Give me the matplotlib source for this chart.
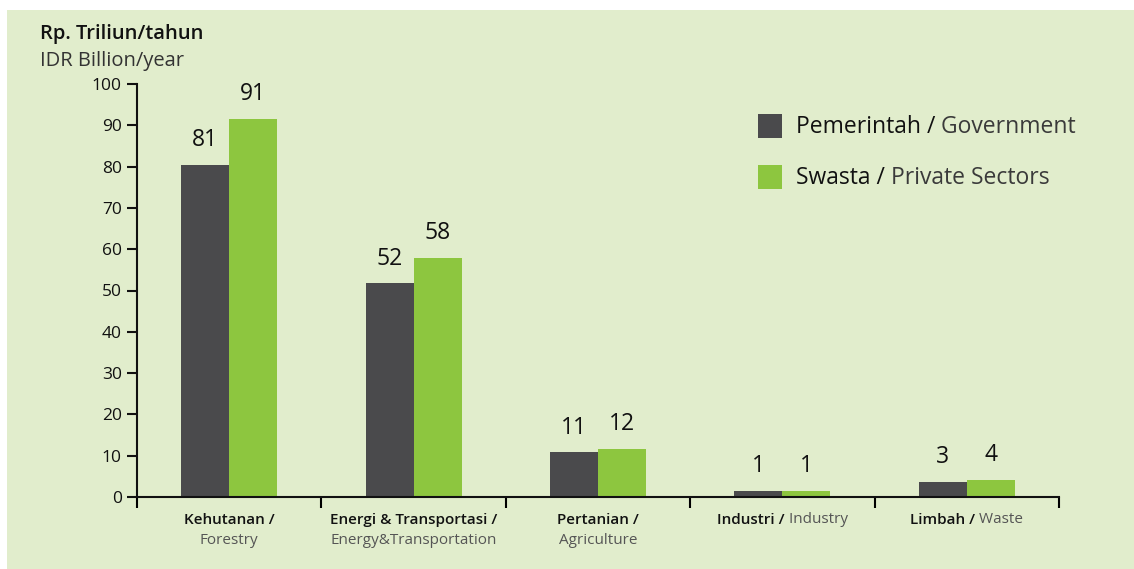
import numpy as np
import matplotlib
matplotlib.use("Agg")
import matplotlib.pyplot as plt
from matplotlib.patches import Rectangle

plt.rcParams['font.family'] = ['Open Sans', 'DejaVu Sans']

# data
sektor_id = ['Kehutanan /', 'Energi & Transportasi /', 'Pertanian /', 'Industri', 'Limbah']
sektor_en = ['Forestry', 'Energy&Transportation', 'Agriculture', 'Industry', 'Waste']
satu_baris = [False, False, False, True, True]
pemerintah = [80.5, 51.7, 10.8, 1.4, 3.6]
swasta = [91.5, 57.9, 11.6, 1.4, 4.1]
label_pemerintah = [81, 52, 11, 1, 3]
label_swasta = [91, 58, 12, 1, 4]
yticks = [0, 10, 20, 30, 40, 50, 60, 70, 80, 90, 100]

bg = '#e1edcc'
c_gov = '#4a4a4c'
c_priv = '#8dc63f'

fig = plt.figure(figsize=(11.34, 5.69), dpi=100)
fig.patch.set_facecolor('white')
# panel hijau muda
fig.patches.append(Rectangle((7 / 1134, 0), 1, 1 - 10 / 569, transform=fig.transFigure,
                             facecolor=bg, edgecolor='none', zorder=-5))

ax = fig.add_axes([137 / 1134, 72 / 569, 922 / 1134, 413 / 569])
ax.set_facecolor('none')
ax.set_zorder(2)

x = np.arange(len(sektor_id))
w = 0.26
b1 = ax.bar(x - w / 2, pemerintah, w, color=c_gov, zorder=2)
b2 = ax.bar(x + w / 2, swasta, w, color=c_priv, zorder=2)

for bars, labels in [(b1, label_pemerintah), (b2, label_swasta)]:
    for r, lab in zip(bars, labels):
        ax.annotate(str(lab), (r.get_x() + r.get_width() / 2, r.get_height()),
                    xytext=(0, 13.5), textcoords='offset points',
                    ha='center', va='baseline', fontsize=16.5, color='#111111')

ax.set_xlim(-0.5, 4.49)
ax.set_ylim(0, 100)
ax.set_yticks(yticks)
ax.set_xticks(np.arange(len(sektor_id) + 1) - 0.5)
ax.set_xticklabels([])
ax.tick_params(axis='y', direction='out', length=7, width=1.5, labelsize=12.5, pad=4, colors='#111111')
ax.tick_params(axis='x', direction='out', length=8, width=1.5)
for s in ['top', 'right']:
    ax.spines[s].set_visible(False)
for s in ['left', 'bottom']:
    ax.spines[s].set_linewidth(1.5)
    ax.spines[s].set_color('#111111')

# label kategori
tr = ax.get_xaxis_transform()
for i in range(len(sektor_id)):
    if satu_baris[i]:
        t = ax.text(i, -0.055, sektor_id[i] + ' /', transform=tr, ha='center', va='center',
                    fontsize=11, fontweight='semibold', color='#111111')
        t2 = ax.annotate(' ' + sektor_en[i], xy=(1, 0), xycoords=t, va='bottom', ha='left',
                         fontsize=11, fontweight='normal', color='#555555', annotation_clip=False)
        # geser supaya satu baris penuh berada di tengah kategori
        fig.canvas.draw()
        r = fig.canvas.get_renderer()
        w1 = t.get_window_extent(r).width
        w2 = t2.get_window_extent(r).width
        dx = (w1 + w2) / 2 - w1 / 2
        xd = ax.transData.inverted().transform((ax.transData.transform((i, 0))[0] - dx, 0))[0]
        t.set_x(xd)
    else:
        ax.text(i, -0.055, sektor_id[i], transform=tr, ha='center', va='center',
                fontsize=11, fontweight='semibold', color='#111111')
        ax.text(i, -0.105, sektor_en[i], transform=tr, ha='center', va='center',
                fontsize=11, fontweight='normal', color='#555555')

# judul sumbu
fig.text(40 / 1134, 1 - 34 / 569, 'Rp. Triliun/tahun', fontsize=14.5, fontweight='semibold',
         color='#111111', va='center', ha='left')
fig.text(40 / 1134, 1 - 61 / 569, 'IDR Billion/year', fontsize=14.5, fontweight='normal',
         color='#333333', va='center', ha='left')

# legenda
legend_rows = [('Pemerintah /', ' Government', c_gov, 127), ('Swasta /', ' Private Sectors', c_priv, 178)]
for bold, light, col, yc in legend_rows:
    fig.patches.append(Rectangle((758 / 1134, 1 - (yc - 1 + 12) / 569), 24 / 1134, 24 / 569,
                                 transform=fig.transFigure, facecolor=col, edgecolor='none'))
    t = fig.text(796 / 1134, 1 - yc / 569, bold, fontsize=16.5, color='#111111',
                 va='center', ha='left')
    ax.annotate(light, xy=(1, 0), xycoords=t, va='bottom', ha='left', fontsize=16.5,
                fontweight='normal', color='#3a3a3a', annotation_clip=False)

fig.savefig('out.png', dpi=100, facecolor='white')
